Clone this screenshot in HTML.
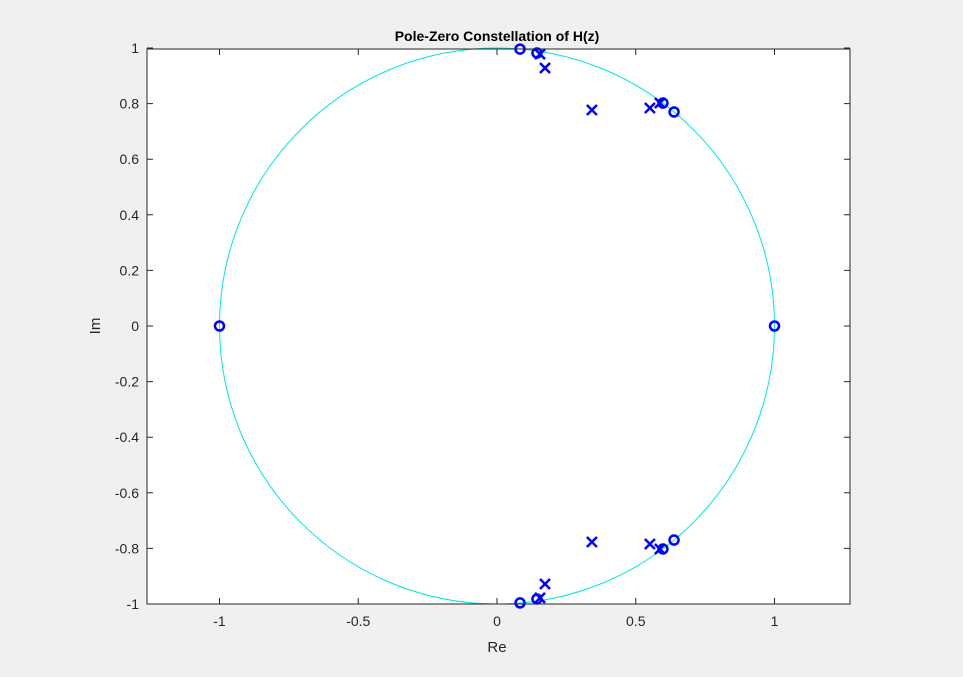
<!DOCTYPE html>
<html><head><meta charset="utf-8"><style>
html,body{margin:0;padding:0;background:#f0f0f0;}
svg{display:block;font-family:"Liberation Sans",Arial,sans-serif;}
</style></head><body>
<svg id="chart" width="963" height="677" viewBox="0 0 963 677">
<rect x="147" y="49" width="703" height="555" fill="#fff"/>
<g id="marks"></g>
<rect x="147" y="49" width="703" height="555" fill="none" stroke="#262626" stroke-width="1"/>
<g id="ticks"></g>
<text x="497" y="41" text-anchor="middle" font-size="14" font-weight="bold" fill="#000">Pole-Zero Constellation of H(z)</text>
<text x="497" y="652" text-anchor="middle" font-size="15" fill="#262626">Re</text>
<text transform="translate(100,326) rotate(-90)" text-anchor="middle" font-size="15" fill="#262626">Im</text>
</svg>
<script>
const xTicks=[-1,-0.5,0,0.5,1];
const xTickLabels=["-1","-0.5","0","0.5","1"];
const yTicks=[-1,-0.8,-0.6,-0.4,-0.2,0,0.2,0.4,0.6,0.8,1];
const yTickLabels=["-1","-0.8","-0.6","-0.4","-0.2","0","0.2","0.4","0.6","0.8","1"];
const zerosRe=[1,-1,0.083,0.083,0.144,0.144,0.598,0.598,0.638,0.638];
const zerosIm=[0,0,0.996,-0.996,0.982,-0.982,0.802,-0.802,0.770,-0.770];
const polesRe=[0.155,0.155,0.173,0.173,0.342,0.342,0.551,0.551,0.587,0.587];
const polesIm=[0.978,-0.978,0.928,-0.928,0.777,-0.777,0.784,-0.784,0.802,-0.802];
const NS="http://www.w3.org/2000/svg";
const sx=v=>497+v*277.5, sy=v=>326-v*278;
function mk(t,a,p){const e=document.createElementNS(NS,t);for(const k in a)e.setAttribute(k,a[k]);p.appendChild(e);return e;}
const marks=document.getElementById('marks'), ticks=document.getElementById('ticks');
let c=mk('ellipse',{cx:sx(0),cy:sy(0),rx:277.5,ry:278,fill:'none',stroke:'#00e5e5','stroke-width':1},marks);


xTicks.forEach((v,i)=>{
  const x=sx(v);
  let l=mk('path',{d:`M${x},604v-6M${x},49v6`,stroke:'#262626'},ticks);
  
  
  let t=mk('text',{x:x,y:626,'text-anchor':'middle','font-size':14,fill:'#262626'},ticks);
  t.textContent=xTickLabels[i];
  
  
});
yTicks.forEach((v,i)=>{
  const y=sy(v);
  let l=mk('path',{d:`M147,${y}h6M850,${y}h-6`,stroke:'#262626'},ticks);
  
  
  let t=mk('text',{x:139,y:y+5,'text-anchor':'end','font-size':14,fill:'#262626'},ticks);
  t.textContent=yTickLabels[i];
  
  
});
zerosRe.forEach((r,i)=>{
  let e=mk('circle',{cx:sx(r),cy:sy(zerosIm[i]),r:4.5,fill:'none',stroke:'#0000ff','stroke-width':2.5},marks);
  
  
});
polesRe.forEach((r,i)=>{
  const x=sx(r),y=sy(polesIm[i]),d=5;
  let e=mk('path',{d:`M${x-d},${y-d}L${x+d},${y+d}M${x-d},${y+d}L${x+d},${y-d}`,stroke:'#0000ff','stroke-width':2.5},marks);
  
  
});
</script>
</body></html>
